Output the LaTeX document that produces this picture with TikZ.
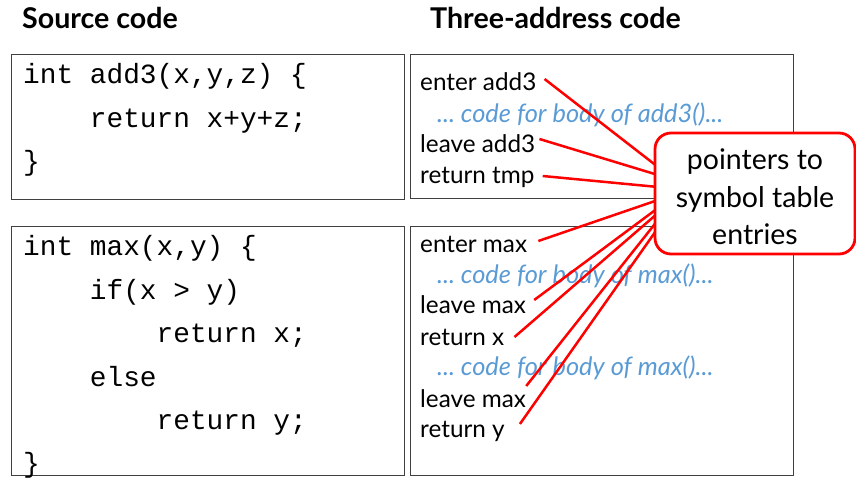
\documentclass[tikz,border=0pt]{standalone}
\usepackage{fontspec}
\setmainfont{Lato}
\newfontfamily\codefont{Liberation Mono}
\definecolor{boxgray}{HTML}{404040}
\definecolor{cmtblue}{HTML}{5B9BD5}
\definecolor{ptrred}{HTML}{FF0000}
\frenchspacing
\begin{document}
\begin{tikzpicture}[x=1pt,y=-1pt,
  box/.style={draw=boxgray,line width=1.2pt,anchor=north west,inner sep=0pt},
  code/.style={anchor=base west,inner sep=0pt,font=\codefont\fontsize{27.8}{30}\selectfont},
  tac/.style={anchor=base west,inner sep=0pt,font=\fontsize{24.3}{28}\selectfont},
  cmt/.style={anchor=base west,inner sep=0pt,text=cmtblue,font=\itshape\fontsize{25.4}{28}\selectfont},
  ttl/.style={anchor=base west,inner sep=0pt,font=\bfseries\fontsize{28.6}{32}\selectfont},
  ptr/.style={draw=ptrred,line width=2.5pt},
  callout/.style={draw=ptrred,fill=white,line width=2.8pt,rounded corners=16pt,
    minimum width=200pt,minimum height=121pt,align=center,inner sep=0pt,
    font=\fontsize{28.5}{37.5}\selectfont}]
\useasboundingbox (0,0) rectangle (856,487);
% titles
\node[ttl] (ts) at (22,29) {Source code};
\node[ttl] (tt) at (430,29) {Three-address code};
% boxes
\node[box,minimum width=393pt,minimum height=145pt] (b1) at (11,54) {};
\node[box,minimum width=383pt,minimum height=144pt] (b2) at (410,54) {};
\node[box,minimum width=393pt,minimum height=249pt] (b3) at (11,226) {};
\node[box,minimum width=383pt,minimum height=249pt] (b4) at (410,226) {};
% source code
\node[code] (s1) at (23,83) {int add3(x,y,z) \{};
\node[code] (s2) at (23,127) {\ \ \ \ return x+y+z;};
\node[code] (s3) at (23,170) {\}};
\node[code] (s4) at (23,255) {int max(x,y) \{};
\node[code] (s5) at (23,299) {\ \ \ \ if(x > y)};
\node[code] (s6) at (23,342) {\ \ \ \ \ \ \ \ return x;};
\node[code] (s7) at (23,386) {\ \ \ \ else};
\node[code] (s8) at (23,429) {\ \ \ \ \ \ \ \ return y;};
\node[code] (s9) at (23,472) {\}};
% three-address code
\node[tac] (t1) at (420,90) {enter add3};
\node[cmt] (c1) at (437,122) {... code for body of add3()...};
\node[tac] (t2) at (420,152) {leave add3};
\node[tac] (t3) at (420,183) {return tmp};
\node[tac] (t4) at (420,252) {enter max};
\node[cmt] (c2) at (437,283) {... code for body of max()...};
\node[tac] (t5) at (420,313) {leave max};
\node[tac] (t6) at (420,345) {return x};
\node[cmt] (c3) at (437,375) {... code for body of max()...};
\node[tac] (t7) at (420,407) {leave max};
\node[tac] (t8) at (420,437) {return y};
% pointer end points on callout edge
\coordinate (e1) at (658,167);
\coordinate (e2) at (658,175);
\coordinate (e3) at (658,187);
\coordinate (e4) at (658,200);
\coordinate (e5) at (658,208);
\coordinate (e6) at (658,213);
\coordinate (e7) at (658,220);
\coordinate (e8) at (658,228);
\draw[ptr] ([shift={(8,-11)}]t1.base east) -- (e1);
\draw[ptr] ([shift={(4,-13)}]t2.base east) -- (e2);
\draw[ptr] ([shift={(8,-7)}]t3.base east) -- (e3);
\draw[ptr] ([shift={(11,-11)}]t4.base east) -- (e4);
\draw[ptr] ([shift={(8,-13)}]t5.base east) -- (e5);
\draw[ptr] ([shift={(10,-8)}]t6.base east) -- (e6);
\draw[ptr] ([shift={(0,-21)}]t7.base east) -- (e7);
\draw[ptr] ([shift={(15,-13)}]t8.base east) -- (e8);
% callout
\node[callout] (call) at (755,193.5) {\rule{0pt}{28pt}pointers to\\symbol table\\entries};
\end{tikzpicture}
\end{document}
